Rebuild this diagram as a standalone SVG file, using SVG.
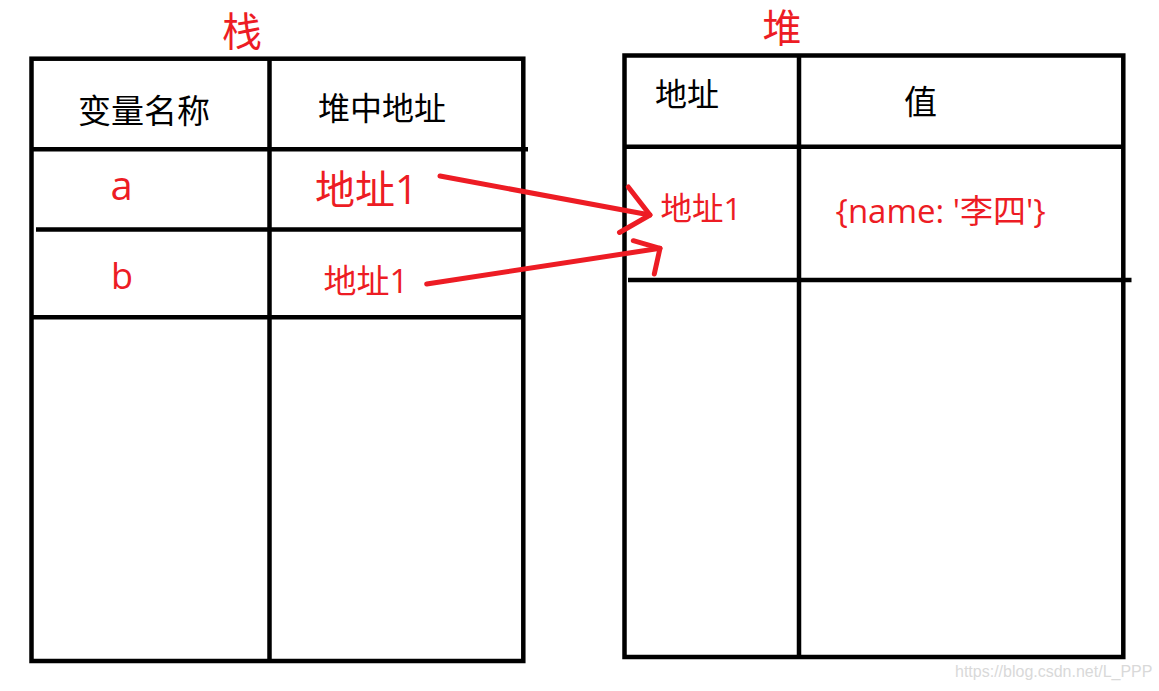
<svg xmlns="http://www.w3.org/2000/svg" width="1159" height="691" viewBox="0 0 1159 691">
  <style>
    .grid { fill: none; stroke: #000; stroke-width: 4.5; }
    .cjk { font-family: "Open Sans", "Noto Sans CJK SC", sans-serif; }
    .black { fill: #000; }
    .red { fill: #ED1C24; }
    .arrow { fill: none; stroke: #ED1C24; stroke-width: 5; stroke-linecap: round; stroke-linejoin: round; }
    .wm { font-family: "Liberation Sans", Arial, sans-serif; font-size: 16px; fill: #d9d9d9; }
  </style>
  <rect width="1159" height="691" fill="#fff"/>

  <g id="stack-title">
    <text class="cjk red" x="242" y="46" font-size="40" text-anchor="middle">栈</text>
  </g>
  <g id="heap-title">
    <text class="cjk red" x="782" y="42" font-size="39" text-anchor="middle">堆</text>
  </g>

  <g id="stack-table">
    <rect class="grid" x="31.5" y="58.7" width="491.8" height="602.3"/>
    <line class="grid" x1="269.5" y1="58.7" x2="269.5" y2="661"/>
    <line class="grid" x1="31.5" y1="149.3" x2="528" y2="149.3"/>
    <line class="grid" x1="36" y1="229.5" x2="523.3" y2="229.5"/>
    <line class="grid" x1="31.5" y1="317.3" x2="523.3" y2="317.3"/>
    <text class="cjk black" x="144" y="123" font-size="33" text-anchor="middle">变量名称</text>
    <text class="cjk black" x="382" y="119.5" font-size="32" text-anchor="middle">堆中地址</text>
    <text class="cjk red" x="121.5" y="200" font-size="40" text-anchor="middle">a</text>
    <text class="cjk red" x="122" y="289" font-size="36" text-anchor="middle">b</text>
    <text class="cjk red" x="315" y="204" font-size="40">地址1</text>
    <text class="cjk red" x="323.5" y="293" font-size="33">地址1</text>
  </g>

  <g id="heap-table">
    <rect class="grid" x="624.5" y="55.5" width="498.8" height="601.5"/>
    <line class="grid" x1="799" y1="55.5" x2="799" y2="657"/>
    <line class="grid" x1="624.5" y1="146.7" x2="1123.3" y2="146.7"/>
    <line class="grid" x1="628" y1="280" x2="1131.5" y2="280"/>
    <text class="cjk black" x="655" y="106" font-size="32">地址</text>
    <text class="cjk black" x="904" y="113.5" font-size="33">值</text>
    <text class="cjk red" x="660.5" y="220" font-size="31.5">地址1</text>
    <text class="cjk red" x="835.5" y="222.5" font-size="33">{name: '李四'}</text>
  </g>

  <g id="connectors">
    <path class="arrow" d="M440,176 L650,215"/>
    <path class="arrow" d="M628.3,187 L650,215 L619.5,232.5"/>
    <path class="arrow" d="M426.7,284 L660,248.3"/>
    <path class="arrow" d="M633.3,240.7 L660,248.3 L654.3,274"/>
  </g>

  <g id="watermark">
    <text class="wm" x="955" y="677">https://blog.csdn.net/L_PPP</text>
  </g>
</svg>
